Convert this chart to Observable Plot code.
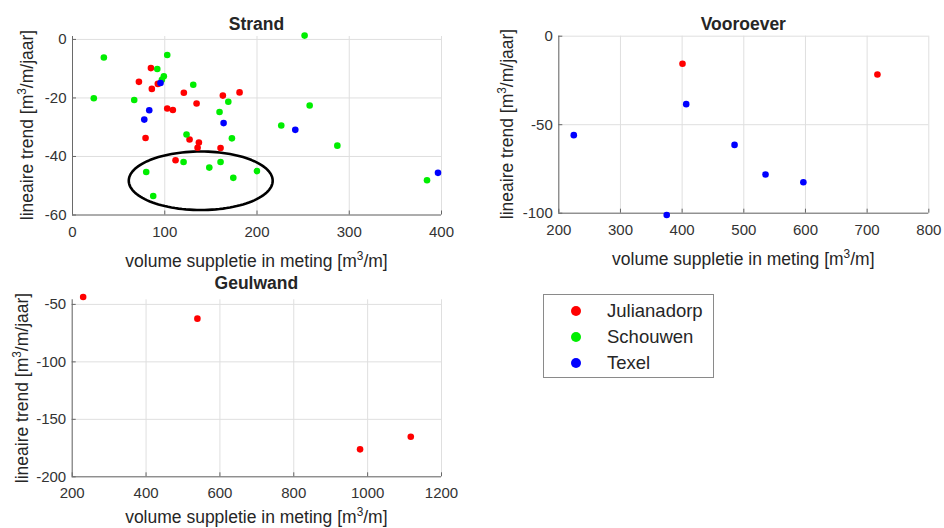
<!DOCTYPE html>
<html><head><meta charset="utf-8">
<script src="https://cdn.jsdelivr.net/npm/d3@7"></script>
<script src="https://cdn.jsdelivr.net/npm/@observablehq/plot@0.6"></script>
<style>
html,body{margin:0;padding:0;background:#fff;}
body{width:944px;height:528px;overflow:hidden;position:relative;font-family:"Liberation Sans",Arial,Helvetica,sans-serif;color:#262626;}
.abs{position:absolute;white-space:nowrap;line-height:20px;}
.title{font-weight:bold;font-size:17.5px;}
.lab{font-size:17.5px;}
sup{font-size:68%;line-height:0;vertical-align:0.55em;}
.legend{position:absolute;border:1px solid #8a8a8a;background:#fff;box-sizing:border-box;}
.legend .item{position:absolute;font-size:18.5px;line-height:20px;white-space:nowrap;}
.legend .sw{position:absolute;width:10px;height:10px;border-radius:50%;}
</style></head><body>
<script>
// ---- data ----
const locations = ["Julianadorp", "Schouwen", "Texel"];
const locationColors = ["#ff0000", "#00ee00", "#0000ff"];

// Strand: [volume suppletie, lineaire trend]
const strandJulianadorp = [[85,-9.8],[72,-14.5],[92.5,-15.2],[86,-16.9],[120.7,-18.2],[134.5,-21.9],[102.7,-23.6],[108.8,-24.1],[163,-19.2],[181.1,-18.1],[79.2,-33.7],[126.9,-34.2],[137,-35.2],[135.6,-37],[160.5,-37.1],[111.7,-41.3]];
const strandSchouwen = [[34,-6.2],[102.7,-5.3],[91.9,-10.1],[99,-12.6],[96.9,-13.8],[130.9,-15.5],[23.1,-20.1],[66.9,-20.7],[251.6,1.3],[168.9,-21.3],[257.1,-22.6],[159.4,-24.8],[226.3,-29.4],[172.8,-33.8],[287.1,-36.3],[123.6,-32.5],[120.4,-41.9],[148.3,-43.8],[160.5,-41.9],[79.9,-45.3],[87.5,-53.5],[174.3,-47.3],[199.9,-45],[384.3,-48.1]];
const strandTexel = [[95.4,-14.9],[83.2,-24.2],[77.8,-27.4],[163.8,-28.6],[241.5,-30.9],[396.2,-45.6]];

// Vooroever
const vooroeverJulianadorp = [[400.6,-15.6],[716.7,-21.6]];
const vooroeverTexel = [[406.6,-38.4],[224.3,-55.9],[485,-61.4],[535.2,-78.1],[596.6,-82.5],[375,-101]];

// Geulwand
const geulwandJulianadorp = [[229.7,-43.6],[539,-62.4],[979.5,-176.1],[1116.8,-165.1]];

// annotation ellipse in Strand (data units)
const strandEllipse = {cx: 139, cy: -48.3, rx: 78, ry: 10};

// ticks
const strandXTicks = [0,100,200,300,400];
const strandYTicks = [-60,-40,-20,0];
const vooroeverXTicks = [200,300,400,500,600,700,800];
const vooroeverYTicks = [-100,-50,0];
const geulwandXTicks = [200,400,600,800,1000,1200];
const geulwandYTicks = [-200,-150,-100,-50];

const panelTitles = ["Strand", "Vooroever", "Geulwand"];
const xLabelHTML = "volume suppletie in meting [m<sup>3</sup>/m]";
const yLabelHTML = "lineaire trend [m<sup>3</sup>/m/jaar]";

// ---- drawing ----
const FONT = '"Liberation Sans", Arial, Helvetica, sans-serif';

function addDiv(cls, html, styles) {
  const d = document.createElement("div");
  d.className = cls;
  d.innerHTML = html;
  Object.assign(d.style, styles);
  document.body.appendChild(d);
  return d;
}

function panel(cfg) {
  const fw = cfg.width - cfg.ml - cfg.mr;
  const fh = cfg.height - cfg.mt - cfg.mb;
  const marks = [
    Plot.gridX(cfg.xt, {stroke: "#dfdfdf", strokeOpacity: 1}),
    Plot.gridY(cfg.yt, {stroke: "#dfdfdf", strokeOpacity: 1}),
    Plot.axisX(cfg.xt, {tickSize: 0, tickPadding: 11, label: null, tickFormat: d => String(d), fontSize: 15, fill: "#333"}),
    Plot.axisY(cfg.yt, {tickSize: 0, tickPadding: 6, label: null, tickFormat: d => String(d), fontSize: 15, fill: "#333"}),
    Plot.tickX(cfg.xt, {x: d => d, insetTop: fh - 4, stroke: "#666"}),
    Plot.tickY(cfg.yt, {y: d => d, insetRight: fw - 4, stroke: "#666"}),
    Plot.ruleX([cfg.xd[0]], {stroke: "#6a6a6a", strokeWidth: 1}),
    Plot.ruleY([cfg.yd[0]], {stroke: "#6a6a6a", strokeWidth: 1})
  ];
  if (cfg.extra) marks.push(...cfg.extra);
  cfg.series.forEach(s => {
    marks.push(Plot.dot(s.data, {x: d => d[0], y: d => d[1], r: 3.3, fill: s.color, stroke: null}));
  });
  const svg = Plot.plot({
    width: cfg.width, height: cfg.height,
    marginLeft: cfg.ml, marginRight: cfg.mr, marginTop: cfg.mt, marginBottom: cfg.mb,
    x: {domain: cfg.xd},
    y: {domain: cfg.yd},
    style: {fontFamily: FONT, fontSize: "15px", color: "#262626", background: "transparent", overflow: "visible"},
    marks
  });
  svg.style.position = "absolute";
  svg.style.left = cfg.left + "px";
  svg.style.top = cfg.top + "px";
  document.body.appendChild(svg);

  const ax0 = cfg.left + cfg.ml, ax1 = cfg.left + cfg.width - cfg.mr;
  const ay0 = cfg.top + cfg.mt, ay1 = cfg.top + cfg.height - cfg.mb;
  const cx = (ax0 + ax1) / 2, cy = (ay0 + ay1) / 2;
  addDiv("abs title", cfg.title, {left: cx + "px", top: (ay0 - cfg.titleGap - 16) + "px", transform: "translateX(-50%)"});
  addDiv("abs lab", xLabelHTML, {left: cx + "px", top: (ay1 + cfg.xLabOff - 16) + "px", transform: "translateX(-50%)"});
  addDiv("abs lab", yLabelHTML, {left: (ax0 - cfg.yLabOff) + "px", top: cy + "px", transform: "translate(-50%,-50%) rotate(-90deg)"});
}

const ellipsePts = d3.range(0, 121).map(i => {
  const t = i / 120 * 2 * Math.PI;
  return [strandEllipse.cx + strandEllipse.rx * Math.cos(t), strandEllipse.cy + strandEllipse.ry * Math.sin(t)];
});

panel({
  title: panelTitles[0], left: 0, top: 0, width: 472, height: 250,
  ml: 72, mr: 31, mt: 36, mb: 35.5, xd: [0, 400], yd: [-60, 1],
  xt: strandXTicks, yt: strandYTicks, titleGap: 6.5, yLabOff: 45, xLabOff: 52,
  extra: [Plot.line(ellipsePts, {x: d => d[0], y: d => d[1], stroke: "#000", strokeWidth: 2.6})],
  series: [
    {data: strandJulianadorp, color: locationColors[0]},
    {data: strandSchouwen, color: locationColors[1]},
    {data: strandTexel, color: locationColors[2]}
  ]
});

panel({
  title: panelTitles[1], left: 480, top: 0, width: 464, height: 250,
  ml: 78.3, mr: 15.7, mt: 35.7, mb: 37.3, xd: [200, 800], yd: [-100, 0],
  xt: vooroeverXTicks, yt: vooroeverYTicks, titleGap: 6, yLabOff: 51.5, xLabOff: 52,
  series: [
    {data: vooroeverJulianadorp, color: locationColors[0]},
    {data: vooroeverTexel, color: locationColors[2]}
  ]
});

panel({
  title: panelTitles[2], left: 0, top: 264, width: 472, height: 250,
  ml: 71.7, mr: 31, mt: 35.3, mb: 37.7, xd: [200, 1200], yd: [-200, -46],
  xt: geulwandXTicks, yt: geulwandYTicks, titleGap: 10, yLabOff: 50, xLabOff: 46.5,
  series: [
    {data: geulwandJulianadorp, color: locationColors[0]}
  ]
});

// legend
const leg = document.createElement("div");
leg.className = "legend";
Object.assign(leg.style, {left: "543px", top: "294px", width: "171px", height: "84px"});
locations.forEach((name, i) => {
  const yc = 16 + i * 26.2;
  const sw = document.createElement("div");
  sw.className = "sw";
  Object.assign(sw.style, {left: (32 - 5) + "px", top: (yc - 5) + "px", background: locationColors[i]});
  leg.appendChild(sw);
  const it = document.createElement("div");
  it.className = "item";
  it.textContent = name;
  Object.assign(it.style, {left: "63px", top: (yc - 10) + "px"});
  leg.appendChild(it);
});
document.body.appendChild(leg);
</script>
</body></html>
